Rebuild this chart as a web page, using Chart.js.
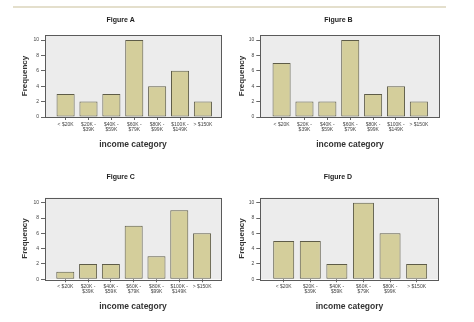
<!DOCTYPE html>
<html>
<head>
<meta charset="utf-8">
<script src="https://cdn.jsdelivr.net/npm/chart.js@4/dist/chart.umd.min.js"></script>
<style>
  html, body { margin: 0; padding: 0; background: #fff; }
  #page { position: relative; width: 474px; height: 322px; overflow: hidden; }
  #rule { position: absolute; left: 13px; top: 6px; width: 433px; height: 2px; background: #e4dfcc; }
  canvas { position: absolute; }
</style>
</head>
<body>
<div id="page">
  <div id="rule"></div>
  <canvas id="chartA" width="237" height="161" style="left:0;top:0"></canvas>
  <canvas id="chartB" width="237" height="161" style="left:237px;top:0"></canvas>
  <canvas id="chartC" width="237" height="161" style="left:0;top:161px"></canvas>
  <canvas id="chartD" width="237" height="161" style="left:237px;top:161px"></canvas>
</div>
<script>
const incomeCategories = [
  ['< $20K'], ['$20K -', '$39K'], ['$40K -', '$59K'], ['$60K -', '$79K'],
  ['$80K -', '$99K'], ['$100K -', '$149K'], ['> $150K']
];
const incomeCategoriesD = [
  ['< $20K'], ['$20K -', '$39K'], ['$40K -', '$59K'], ['$60K -', '$79K'],
  ['$80K -', '$99K'], ['> $150K']
];
const figureA = [3, 2, 3, 10, 4, 6, 2];
const figureB = [7, 2, 2, 10, 3, 4, 2];
const figureC = [1, 2, 2, 7, 3, 9, 6];
const figureD = [5, 5, 2, 10, 6, 2];
const yTicks = [0, 2, 4, 6, 8, 10];

const FONT = "'Liberation Sans', Arial, sans-serif";

// grey plot box with dark frame, like the SPSS output
const plotFrame = {
  id: 'plotFrame',
  beforeDatasetsDraw(chart) {
    const a = chart.chartArea;
    const ctx = chart.ctx;
    ctx.save();
    ctx.fillStyle = '#ececec';
    ctx.fillRect(a.left, a.top, a.right - a.left, a.bottom - a.top);
    ctx.restore();
  },
  afterDraw(chart) {
    const a = chart.chartArea;
    const ctx = chart.ctx;
    ctx.save();
    ctx.strokeStyle = '#5a5a5a';
    ctx.lineWidth = 1;
    ctx.strokeRect(Math.round(a.left) + 0.5, Math.round(a.top) + 0.5,
      Math.round(a.right - a.left), Math.round(a.bottom - a.top));
    ctx.restore();
  }
};

function makeChart(id, title, labels, values, opt) {
  const ctx = document.getElementById(id);
  return new Chart(ctx, {
    type: 'bar',
    data: {
      datasets: [{
        data: values.map((v, i) => ({ x: i, y: v })),
        backgroundColor: '#d4ce9b',
        borderColor: '#5e5c48',
        borderWidth: 1,
        borderSkipped: false,
        barPercentage: 0.79,
        categoryPercentage: 1
      }]
    },
    options: {
      responsive: false,
      animation: false,
      layout: { padding: { left: opt.padLeft, right: opt.padRight, top: 0, bottom: 0 } },
      plugins: {
        legend: { display: false },
        tooltip: { enabled: false },
        title: {
          display: true,
          text: title,
          color: '#222',
          font: { family: FONT, size: 7, weight: 'bold', lineHeight: 1.2 },
          padding: { top: opt.titleTop, bottom: opt.titleBottom }
        }
      },
      scales: {
        x: {
          type: 'linear',
          offset: false,
          min: opt.xMin,
          max: opt.xMax,
          afterBuildTicks(scale) {
            scale.ticks = labels.map((_, i) => ({ value: i }));
          },
          afterFit(scale) { scale.height = opt.xHeight; },
          grid: { offset: false, drawOnChartArea: false, drawTicks: true, tickLength: 3, color: '#666' },
          border: { display: false },
          ticks: {
            autoSkip: false,
            maxRotation: 0,
            padding: 2,
            color: '#444',
            font: { family: FONT, size: 5, lineHeight: 1 },
            callback: (v) => labels[v]
          },
          title: {
            display: true,
            text: 'income category',
            color: '#333',
            font: { family: FONT, size: 8.5, weight: 'bold', lineHeight: 1.2 },
            padding: { top: 0, bottom: opt.xTitleBottom }
          }
        },
        y: {
          min: 0,
          max: 10.65,
          afterBuildTicks(scale) {
            scale.ticks = yTicks.map(v => ({ value: v }));
          },
          afterFit(scale) { scale.width = opt.yWidth; },
          grid: { drawOnChartArea: false, drawTicks: true, tickLength: 4, color: '#666' },
          border: { display: false },
          ticks: {
            padding: 2,
            color: '#444',
            font: { family: FONT, size: 5 }
          },
          title: {
            display: true,
            text: 'Frequency',
            color: '#333',
            font: { family: FONT, size: 8, weight: 'bold', lineHeight: 1.2 },
            padding: { top: 0, bottom: 0 }
          }
        }
      }
    },
    plugins: [plotFrame]
  });
}

makeChart('chartA', 'Figure A', incomeCategories, figureA, {
  padLeft: 20.4, padRight: 16, yWidth: 24.6, xMin: -0.9, xMax: 6.79,
  titleTop: 15.8, titleBottom: 10.8, xHeight: 44, xTitleBottom: 11.2
});
makeChart('chartB', 'Figure B', incomeCategories, figureB, {
  padLeft: 0, padRight: 34.3, yWidth: 23.3, xMin: -0.93, xMax: 6.91,
  titleTop: 15.8, titleBottom: 10.8, xHeight: 44, xTitleBottom: 11.2
});
makeChart('chartC', 'Figure C', incomeCategories, figureC, {
  padLeft: 20.4, padRight: 16, yWidth: 24.6, xMin: -0.89, xMax: 6.83,
  titleTop: 11.5, titleBottom: 16.8, xHeight: 42.7, xTitleBottom: 10.2
});
makeChart('chartD', 'Figure D', incomeCategoriesD, figureD, {
  padLeft: 0, padRight: 35.3, yWidth: 23.3, xMin: -0.88, xMax: 5.83,
  titleTop: 11.5, titleBottom: 16.8, xHeight: 42.7, xTitleBottom: 10.2
});
</script>
</body>
</html>
